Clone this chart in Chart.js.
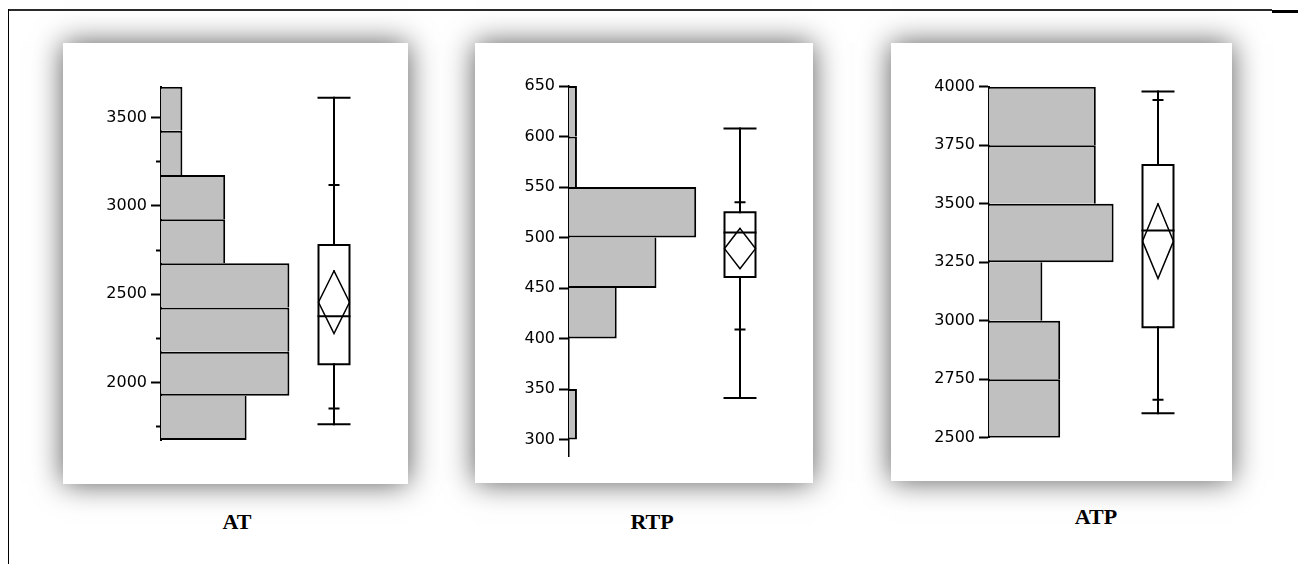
<!DOCTYPE html>
<html>
<head>
<meta charset="utf-8">
<script src="https://cdn.jsdelivr.net/npm/chart.js@4.4.1/dist/chart.umd.min.js"></script>
<style>
  html, body { margin: 0; padding: 0; background: #fff; }
  body { width: 1298px; height: 564px; position: relative; overflow: hidden; }
  .line { position: absolute; }
  .panel { position: absolute; background: #fff; box-shadow: 0 0 28px rgba(0, 0, 0, .65); }
  .panel canvas { display: block; }
  .label { position: absolute; width: 120px; text-align: center; font: bold 22px "Liberation Serif", "Times New Roman", serif; line-height: 22px; color: #000; }
</style>
</head>
<body>
<div class="line" style="left:8px;top:9px;width:1264px;height:2px;background:#2b2b2b"></div>
<div class="line" style="left:1272px;top:10px;width:26px;height:3px;background:#000"></div>
<div class="line" style="left:8px;top:9px;width:1px;height:555px;background:#000"></div>

<div class="panel" style="left:63px;top:43px;width:345px;height:441px"><canvas id="atChart" width="345" height="441"></canvas></div>
<div class="panel" style="left:475px;top:43px;width:338px;height:440px"><canvas id="rtpChart" width="338" height="440"></canvas></div>
<div class="panel" style="left:891px;top:43px;width:341px;height:438px"><canvas id="atpChart" width="341" height="438"></canvas></div>

<div class="label" style="left:177px;top:511px">AT</div>
<div class="label" style="left:592px;top:511px">RTP</div>
<div class="label" style="left:1036px;top:506px">ATP</div>

<script>
/* AT */
const atBins = [1675, 1925, 2175, 2425, 2675, 2925, 3175, 3425]
const atCounts = [4, 6, 6, 6, 3, 3, 1, 1]
const atTicks = [2000, 2500, 3000, 3500]
const atMinorTicks = [1750, 2250, 2750, 3250]
// [min, p10, q1, median, q3, p90, max]
const atBox = [1764, 1853, 2104, 2375, 2779, 3119, 3613]
// [mean, demi-hauteur du losange]
const atMean = [2455, 177]

/* RTP */
const rtpBins = [300, 350, 400, 450, 500, 550, 600]
const rtpCounts = [1, 0, 6, 11, 16, 1, 1]
const rtpTicks = [300, 350, 400, 450, 500, 550, 600, 650]
const rtpBox = [341, 409, 461, 505, 525, 535, 608]
const rtpMean = [489, 20]

/* ATP */
const atpBins = [2500, 2750, 3000, 3250, 3500, 3750]
const atpCounts = [4, 4, 3, 7, 6, 6]
const atpTicks = [2500, 2750, 3000, 3250, 3500, 3750, 4000]
const atpBox = [2605, 2662, 2972, 3386, 3665, 3943, 3979]
const atpMean = [3340, 160]

const PLOT_W = 230
const BOX_HALF = 15.5
const MARK_HALF = 4.5
const tickFont = { family: '"DejaVu Sans", sans-serif', size: 16 }

/* Segments de la boite a moustaches */
const boxDatasets = (box, mean, cx) => {
  const [lo, p10, q1, med, q3, p90, hi] = box
  const [m, d] = mean
  const w = BOX_HALF, t = MARK_HALF
  const seg = (pts, width) => ({
    type: 'line',
    xAxisID: 'xb',
    yAxisID: 'y',
    data: pts.map(([x, y]) => ({ x: cx + x, y: y })),
    borderColor: '#000',
    borderWidth: width,
    borderCapStyle: 'square',
    pointRadius: 0,
    fill: false,
    tension: 0
  })
  return [
    seg([[-w, q1], [w, q1], [w, q3], [-w, q3], [-w, q1]], 2),
    seg([[-w, med], [w, med]], 2),
    seg([[0, q3], [0, hi]], 2),
    seg([[0, lo], [0, q1]], 2),
    seg([[-w, hi], [w, hi]], 2),
    seg([[-w, lo], [w, lo]], 2),
    seg([[-t, p90], [t, p90]], 2),
    seg([[-t, p10], [t, p10]], 2),
    seg([[0, m + d], [w, m], [0, m - d], [-w, m], [0, m + d]], 1.5)
  ]
}

/* La barre la plus large trace la limite commune, pour garder un trait de 2px */
const barBorder = (counts) => (ctx) => {
  const i = ctx.dataIndex
  const c = counts[i]
  const below = i > 0 ? counts[i - 1] : -1
  const above = i < counts.length - 1 ? counts[i + 1] : -1
  return { top: c >= above ? 2 : 0, bottom: c > below ? 2 : 0, left: 0, right: 2 }
}

const makeChart = (id, bins, counts, ticks, minorTicks, box, mean, cfg) => {
  const binW = bins[1] - bins[0]
  const hist = {
    type: 'bar',
    xAxisID: 'x',
    yAxisID: 'y',
    data: bins.map((b, i) => ({ y: b + binW / 2, x: counts[i] })),
    backgroundColor: '#c0c0c0',
    borderColor: '#000',
    borderWidth: barBorder(counts),
    borderSkipped: 'start',
    inflateAmount: 0,
    barPercentage: 1,
    categoryPercentage: 1
  }
  return new Chart(document.querySelector(id), {
    type: 'bar',
    data: { datasets: [hist, ...boxDatasets(box, mean, cfg.boxX)] },
    options: {
      responsive: false,
      animation: false,
      devicePixelRatio: 1,
      indexAxis: 'y',
      layout: { padding: cfg.padding },
      plugins: { legend: { display: false }, tooltip: { enabled: false } },
      events: [],
      scales: {
        x: { type: 'linear', display: false, min: 0, max: cfg.xMax },
        xb: { type: 'linear', axis: 'x', display: false, min: 0, max: PLOT_W },
        y: {
          type: 'linear',
          min: cfg.yMin,
          max: cfg.yMax,
          offset: false,
          afterBuildTicks: s => { s.ticks = ticks.map(v => ({ value: v })) },
          afterFit: s => { s.width = 60 },
          border: { display: true, color: '#000', width: cfg.axisW },
          grid: { drawOnChartArea: false, offset: false, drawTicks: true, tickLength: 10, tickWidth: 2, tickColor: '#000' },
          ticks: { font: tickFont, color: '#000', padding: 4, callback: v => String(v) }
        },
        ym: {
          type: 'linear',
          axis: 'y',
          display: minorTicks.length > 0,
          position: { x: 0 },
          min: cfg.yMin,
          max: cfg.yMax,
          offset: false,
          afterBuildTicks: s => { s.ticks = minorTicks.map(v => ({ value: v })) },
          border: { display: false },
          grid: { drawOnChartArea: false, offset: false, drawTicks: true, tickLength: 5, tickWidth: 2, tickColor: '#000' },
          ticks: { display: false }
        }
      }
    }
  })
}

makeChart('#atChart', atBins, atCounts, atTicks, atMinorTicks, atBox, atMean, {
  yMin: 1675, yMax: 3675, xMax: PLOT_W / 21.4, boxX: 173, axisW: 2,
  padding: { left: 38, top: 43.7, right: 17, bottom: 44 }
})
makeChart('#rtpChart', rtpBins, rtpCounts, rtpTicks, [], rtpBox, rtpMean, {
  yMin: 283, yMax: 650, xMax: PLOT_W / 7.95, boxX: 171, axisW: 1.5,
  padding: { left: 34, top: 43, right: 14, bottom: 26.3 }
})
makeChart('#atpChart', atpBins, atpCounts, atpTicks, [], atpBox, atpMean, {
  yMin: 2500, yMax: 4000, xMax: PLOT_W / 17.8, boxX: 169, axisW: 2,
  padding: { left: 38, top: 43.7, right: 13, bottom: 43.3 }
})
</script>
</body>
</html>
